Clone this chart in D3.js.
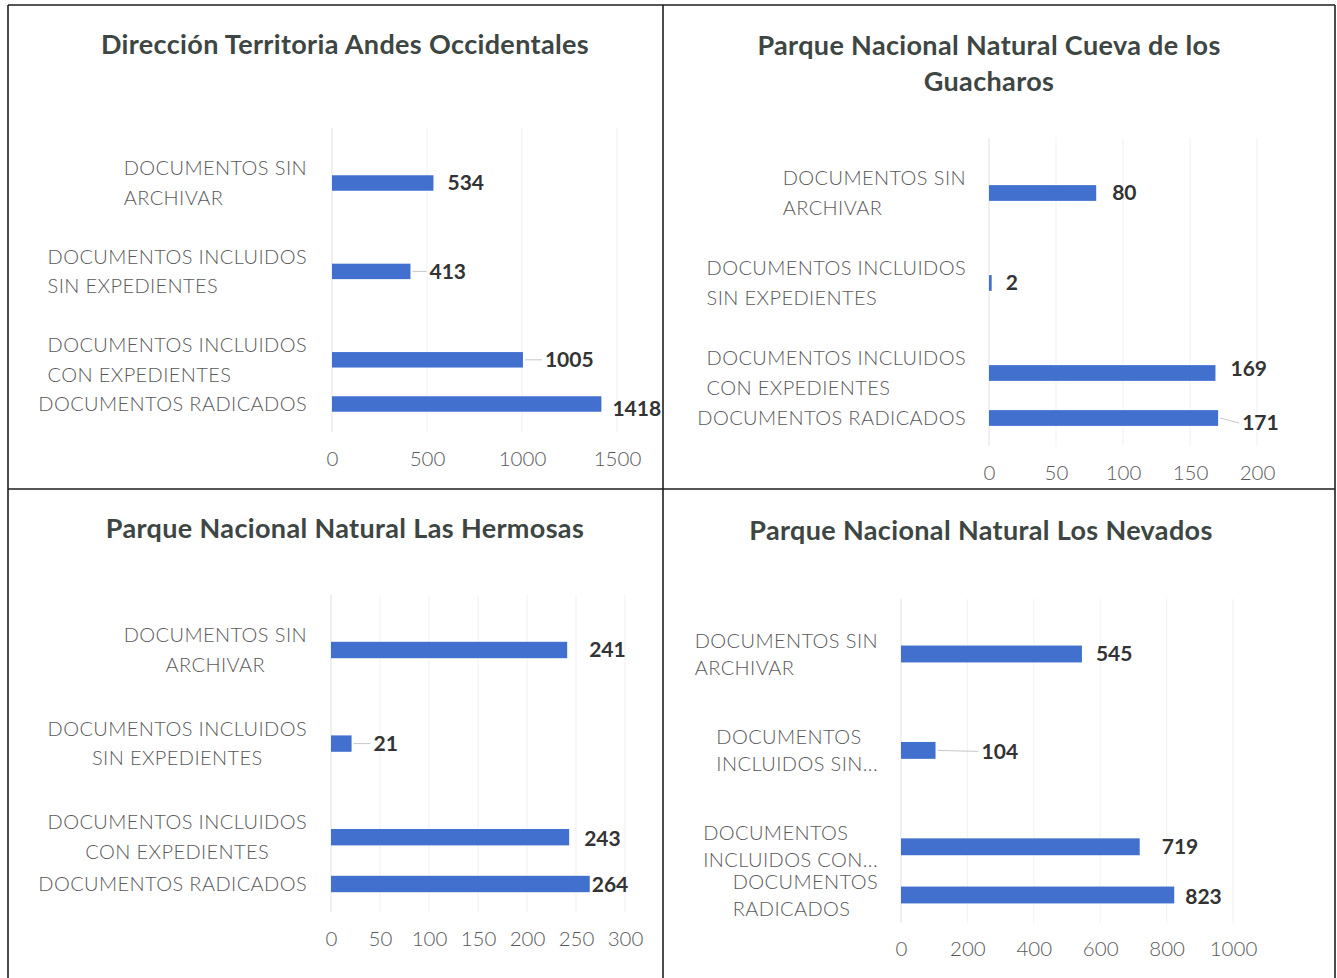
<!DOCTYPE html>
<html>
<head>
<meta charset="utf-8">
<script src="https://cdn.jsdelivr.net/npm/d3@7"></script>
<style>
  body { margin: 0; background: #fff; }
  svg { display: block; }
  text { font-family: Lato, "Open Sans", sans-serif; }
</style>
</head>
<body>
<svg id="chart" width="1337" height="978"></svg>
<script>
// categories (bottom of the chart is the last one)
const categories = [
  "DOCUMENTOS SIN ARCHIVAR",
  "DOCUMENTOS INCLUIDOS SIN EXPEDIENTES",
  "DOCUMENTOS INCLUIDOS CON EXPEDIENTES",
  "DOCUMENTOS RADICADOS"
];
const wrapWide = [
  ["DOCUMENTOS SIN", "ARCHIVAR"],
  ["DOCUMENTOS INCLUIDOS", "SIN EXPEDIENTES"],
  ["DOCUMENTOS INCLUIDOS", "CON EXPEDIENTES"],
  ["DOCUMENTOS RADICADOS"]
];
const wrapNarrow = [
  ["DOCUMENTOS SIN", "ARCHIVAR"],
  ["DOCUMENTOS", "INCLUIDOS SIN..."],
  ["DOCUMENTOS", "INCLUIDOS CON..."],
  ["DOCUMENTOS", "RADICADOS"]
];

// values per office
const andesValues = [534, 413, 1005, 1418];
const guacharosValues = [80, 2, 169, 171];
const hermosasValues = [241, 21, 243, 264];
const nevadosValues = [545, 104, 719, 823];

// tick labels
const andesTicks = [0, 500, 1000, 1500];
const guacharosTicks = [0, 50, 100, 150, 200];
const hermosasTicks = [0, 50, 100, 150, 200, 250, 300];
const nevadosTicks = [0, 200, 400, 600, 800, 1000];

// titles
const andesTitle = ["Dirección Territoria Andes Occidentales"];
const guacharosTitle = ["Parque Nacional Natural Cueva de los", "Guacharos"];
const hermosasTitle = ["Parque Nacional Natural Las Hermosas"];
const nevadosTitle = ["Parque Nacional Natural Los Nevados"];

// row slots used by the category axis (the last two rows sit close together)
const slots = [0, 2, 4, 5];

const barColor = "#4170cf";

const panels = [
  { title: andesTitle, values: andesValues, ticks: andesTicks, wrap: wrapWide,
    xr: [332, 617], yr: [183, 404], tickY: 459, titleX: 345, titleY: 45,
    labelRight: 307, align: "left", lineH: 29.5,
    nudge: [[14, 0], [19, 0, true], [22, 0, true], [11, 5]] },
  { title: guacharosTitle, values: guacharosValues, ticks: guacharosTicks, wrap: wrapWide,
    xr: [989, 1257], yr: [193, 418], tickY: 473, titleX: 989, titleY: 46,
    labelRight: 966, align: "left", lineH: 29.5,
    nudge: [[16, 0], [14, 0], [15, -4], [24, 5, true]] },
  { title: hermosasTitle, values: hermosasValues, ticks: hermosasTicks, wrap: wrapWide,
    xr: [331, 625], yr: [650, 884], tickY: 939, titleX: 345, titleY: 529,
    labelRight: 307, align: "center", lineH: 29.5,
    nudge: [[22, 0], [22, 0, true], [15, 1], [2, 1]] },
  { title: nevadosTitle, values: nevadosValues, ticks: nevadosTicks, wrap: wrapNarrow,
    xr: [901, 1233], yr: [654, 895], tickY: 949, titleX: 981, titleY: 531,
    labelRight: 878, align: "left", lineH: 27,
    nudge: [[14, 0], [46, 1, true], [22, 0], [11, 2]] }
];

const svg = d3.select("#chart");

// frame lines of the scanned page
const frame = svg.append("g").attr("stroke", "#1e1e1e").attr("stroke-width", 1.6);
frame.append("line").attr("x1", 8).attr("x2", 1335).attr("y1", 5).attr("y2", 5);
frame.append("line").attr("x1", 8).attr("x2", 8).attr("y1", 5).attr("y2", 978);
frame.append("line").attr("x1", 1335).attr("x2", 1335).attr("y1", 5).attr("y2", 978);
frame.append("line").attr("x1", 663).attr("x2", 663).attr("y1", 5).attr("y2", 978);
frame.append("line").attr("x1", 8).attr("x2", 1335).attr("y1", 489).attr("y2", 489);

panels.forEach(function (p) {
  const g = svg.append("g");
  const maxTick = p.ticks[p.ticks.length - 1];

  const x = d3.scaleLinear().domain([0, maxTick]).range(p.xr);
  const y = d3.scaleLinear().domain([0, 5]).range(p.yr);
  const barH = (p.yr[1] - p.yr[0]) / 5 * 0.35;

  // title
  g.append("text")
    .attr("x", p.titleX)
    .attr("y", p.titleY)
    .attr("text-anchor", "middle")
    .attr("font-size", 27)
    .attr("font-weight", 700)
    .attr("letter-spacing", 0.35)
    .attr("fill", "#3d4642")
    .selectAll("tspan")
    .data(p.title)
    .enter()
    .append("tspan")
    .attr("x", p.titleX)
    .attr("dy", function (d, i) { return i === 0 ? "0.35em" : 36; })
    .text(function (d) { return d; });

  // faint vertical gridlines
  g.append("g")
    .selectAll("line")
    .data(p.ticks)
    .enter()
    .append("line")
    .attr("x1", function (d) { return x(d); })
    .attr("x2", function (d) { return x(d); })
    .attr("y1", y(0) - 55)
    .attr("y2", y(5) + 28)
    .attr("stroke", function (d) { return d === 0 ? "#e6e6e6" : "#f3f3f3"; })
    .attr("stroke-width", 1.2);

  // tick labels
  const axis = g.append("g")
    .attr("transform", "translate(0," + p.tickY + ")")
    .call(d3.axisBottom(x).tickValues(p.ticks).tickFormat(d3.format("d")).tickSize(0).tickPadding(0));
  axis.select(".domain").remove();
  axis.selectAll("text")
    .attr("dy", "0.35em")
    .attr("font-size", 20.5)
    .attr("font-weight", 300)
    .attr("font-family", "Lato, sans-serif")
    .attr("fill", "#595959");

  // bars
  g.append("g")
    .selectAll("rect")
    .data(p.values)
    .enter()
    .append("rect")
    .attr("x", x(0))
    .attr("y", function (d, i) { return y(slots[i]) - barH / 2; })
    .attr("width", function (d) { return Math.max(1.5, x(d) - x(0)); })
    .attr("height", barH)
    .attr("fill", barColor);

  // leader lines for data labels that sit further out
  p.values.forEach(function (v, i) {
    const n = p.nudge[i];
    if (n[2]) {
      g.append("line")
        .attr("x1", x(v) + 2)
        .attr("x2", x(v) + n[0] - 3)
        .attr("y1", y(slots[i]))
        .attr("y2", y(slots[i]) + n[1])
        .attr("stroke", "#c8c8c8")
        .attr("stroke-width", 1);
    }
  });

  // data labels
  g.append("g")
    .selectAll("text")
    .data(p.values)
    .enter()
    .append("text")
    .attr("x", function (d, i) { return x(d) + p.nudge[i][0]; })
    .attr("y", function (d, i) { return y(slots[i]) + p.nudge[i][1]; })
    .attr("dy", "0.35em")
    .attr("font-size", 21)
    .attr("font-weight", 700)
    .attr("fill", "#333")
    .text(function (d) { return d; });

  // category labels
  const lineH = p.lineH;
  categories.forEach(function (c, i) {
    const lines = p.wrap[i];
    const cy = y(slots[i]);
    const t = g.append("text")
      .attr("font-size", 20)
      .attr("font-weight", 300)
      .attr("letter-spacing", 0.4)
      .attr("fill", "#595959")
      .attr("y", cy - (lines.length - 1) * lineH / 2);
    const spans = t.selectAll("tspan")
      .data(lines)
      .enter()
      .append("tspan")
      .attr("dy", function (d, k) { return k === 0 ? "0.35em" : lineH; })
      .text(function (d) { return d; });
    let w = 0;
    spans.each(function () { w = Math.max(w, this.getComputedTextLength()); });
    if (p.align === "center") {
      spans.attr("x", p.labelRight - w / 2).attr("text-anchor", "middle");
    } else {
      spans.attr("x", p.labelRight - w).attr("text-anchor", "start");
    }
  });
});
</script>
</body>
</html>
